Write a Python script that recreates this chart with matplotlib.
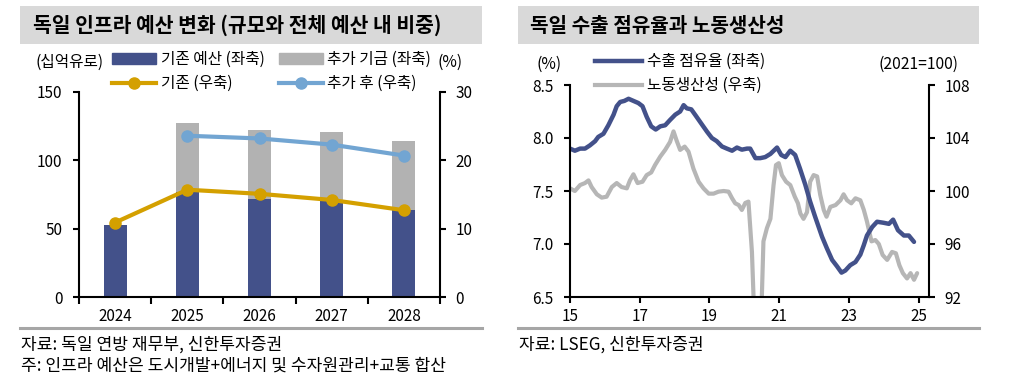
import matplotlib
matplotlib.use('Agg')
import matplotlib.pyplot as plt
from matplotlib.patches import Rectangle, Patch
from matplotlib.lines import Line2D
import numpy as np

plt.rcParams['font.family'] = ['Noto Sans CJK KR', 'DejaVu Sans']

# ---------------- data: left chart ----------------
years = ['2024', '2025', '2026', '2027', '2028']
base_budget = [53, 77, 72, 70, 63.5]          # 기존 예산 (십억유로)
extra_fund = [0, 50.5, 50.5, 50.5, 50.5]      # 추가 기금 (십억유로)
share_base = [10.9, 15.7, 15.1, 14.2, 12.7]   # 기존 (%)
share_after = [np.nan, 23.6, 23.2, 22.3, 20.7]  # 추가 후 (%)

# ---------------- data: right chart ----------------
export_t = [2015.00, 2015.14, 2015.29, 2015.43, 2015.57, 2015.72, 2015.81, 2015.96,
            2016.10, 2016.25, 2016.34, 2016.44, 2016.56, 2016.68, 2016.82, 2016.96,
            2017.08, 2017.20, 2017.33, 2017.46, 2017.59, 2017.73, 2017.87,
            2018.02, 2018.16, 2018.26, 2018.35, 2018.48, 2018.61, 2018.78, 2018.93,
            2019.07, 2019.21, 2019.36, 2019.50, 2019.65, 2019.79, 2019.93,
            2020.08, 2020.17, 2020.32, 2020.46, 2020.60, 2020.75, 2020.94,
            2021.06, 2021.18, 2021.32, 2021.46, 2021.60, 2021.75, 2021.89,
            2022.03, 2022.23, 2022.37, 2022.52, 2022.66, 2022.79, 2022.90,
            2023.04, 2023.19, 2023.33, 2023.43, 2023.52, 2023.67, 2023.81,
            2024.00, 2024.15, 2024.27, 2024.41, 2024.58, 2024.72, 2024.87]
export_share = [7.90, 7.88, 7.90, 7.90, 7.93, 7.97, 8.01, 8.04,
                8.12, 8.22, 8.30, 8.34, 8.35, 8.37, 8.35, 8.33,
                8.30, 8.20, 8.11, 8.08, 8.11, 8.12, 8.17,
                8.22, 8.25, 8.31, 8.28, 8.27, 8.21, 8.13, 8.06,
                8.00, 7.97, 7.92, 7.90, 7.88, 7.91, 7.89,
                7.90, 7.90, 7.81, 7.81, 7.82, 7.85, 7.91,
                7.84, 7.82, 7.88, 7.84, 7.71, 7.56, 7.40,
                7.26, 7.07, 6.96, 6.85, 6.79, 6.73, 6.75,
                6.80, 6.83, 6.90, 6.99, 7.08, 7.16, 7.21,
                7.20, 7.19, 7.23, 7.13, 7.08, 7.08, 7.02]

prod_t = [2015.00, 2015.14, 2015.29, 2015.43, 2015.53, 2015.62, 2015.77, 2015.91,
          2016.05, 2016.20, 2016.34, 2016.48, 2016.63, 2016.72, 2016.82, 2016.94,
          2017.08, 2017.20, 2017.33, 2017.44, 2017.59, 2017.73, 2017.87, 2017.97,
          2018.06, 2018.16, 2018.29, 2018.40, 2018.54, 2018.69, 2018.83, 2018.98,
          2019.12, 2019.26, 2019.41, 2019.55, 2019.65, 2019.74, 2019.84, 2019.93,
          2020.03, 2020.12, 2020.22, 2020.32, 2020.46, 2020.55, 2020.65, 2020.75, 2020.84, 2020.91, 2020.99,
          2021.08, 2021.20, 2021.32, 2021.45, 2021.54, 2021.61, 2021.70, 2021.80, 2021.89, 2021.99,
          2022.09, 2022.18, 2022.28, 2022.36, 2022.47, 2022.62, 2022.76, 2022.85, 2022.95,
          2023.07, 2023.19, 2023.33, 2023.43, 2023.52, 2023.65, 2023.76, 2023.86, 2023.97,
          2024.10, 2024.24, 2024.35, 2024.45, 2024.55, 2024.67, 2024.77, 2024.87, 2024.96]
productivity = [100.2, 100.0, 100.45, 100.6, 100.8, 100.3, 99.75, 99.5,
                99.57, 100.3, 100.6, 100.3, 100.2, 100.8, 101.26, 100.6,
                100.7, 101.2, 101.4, 101.96, 102.6, 103.1, 103.7, 104.5,
                103.8, 103.1, 103.35, 102.97, 101.7, 100.7, 100.2, 99.8,
                99.8, 99.95, 100.0, 99.95, 99.45, 99.07, 98.94, 98.57,
                99.1, 99.2, 95.4, 88.0, 88.0, 96.2, 97.2, 97.9, 100.45, 101.96, 102.1,
                101.2, 100.7, 100.45, 99.57, 99.07, 98.3, 97.9, 98.4, 100.7, 101.2,
                101.1, 99.7, 98.57, 98.06, 98.8, 98.94, 99.3, 99.75, 99.3,
                99.07, 99.45, 99.3, 98.57, 97.7, 96.2, 96.3, 96.0, 95.17,
                94.8, 95.4, 95.3, 94.4, 93.8, 93.4, 93.8, 93.3, 93.8]

x_years = [2015, 2017, 2019, 2021, 2023, 2025]
x_labels = ['15', '17', '19', '21', '23', '25']

# ---------------- styling ----------------
C_DARK = '#43518a'
C_GRAY_BAR = '#b2b2b2'
C_GOLD = '#d4a000'
C_LBLUE = '#72a5d2'
C_GRAY_LINE = '#b6b6b6'

W, H = 1022, 382
fig = plt.figure(figsize=(W / 100, H / 100), dpi=100)


def fx(px):
    return px / W


def fy(py):
    return 1 - py / H


TICK_FS = 11
LEG_FS = 11.3
FOOT_FS = 12.3


def title_box(x0, x1, text, tx, fs):
    fig.patches.append(Rectangle((fx(x0), fy(44)), fx(x1 - x0), 38 / H,
                                 transform=fig.transFigure, facecolor='#d9d9d9',
                                 edgecolor='none', zorder=0))
    fig.text(fx(tx), fy(25), text, fontsize=fs, fontweight='bold',
             va='center', ha='left')
    fig.add_artist(Line2D([fx(x0), fx(x1)], [fy(328), fy(328)],
                          color='#a6a6a6', lw=2.2, transform=fig.transFigure))


def style_axes(ax):
    ax.spines['top'].set_visible(False)
    for s in ['left', 'right', 'bottom']:
        ax.spines[s].set_linewidth(1.5)
        ax.spines[s].set_color('black')
    ax.tick_params(axis='both', which='both', direction='out', width=1.5,
                   length=4, labelsize=TICK_FS, colors='black')


# ================= LEFT CHART =================
title_box(20, 482, '독일 인프라 예산 변화 (규모와 전체 예산 내 비중)', 33, 14.7)

ax1 = fig.add_axes([fx(79), fy(297), fx(361), 205 / H])
xpos = np.arange(len(years))
ax1.bar(xpos, base_budget, width=0.32, color=C_DARK, zorder=2)
ax1.bar(xpos, extra_fund, bottom=base_budget, width=0.32, color=C_GRAY_BAR, zorder=2)
ax1.set_xlim(-0.5, len(years) - 0.5)
ax1.set_ylim(0, 150)
ax1.set_yticks([0, 50, 100, 150])
ax1.set_xticks(xpos)
ax1.set_xticklabels(years)
ax1.set_xticks(np.arange(-0.5, len(years), 1), minor=True)
style_axes(ax1)
ax1.spines['right'].set_visible(False)
ax1.tick_params(axis='x', which='major', length=0, pad=8)
ax1.tick_params(axis='x', which='minor', length=5)
ax1.tick_params(axis='y', pad=8)

ax2 = ax1.twinx()
ax2.set_ylim(0, 30)
ax2.set_yticks([0, 10, 20, 30])
style_axes(ax2)
ax2.spines['left'].set_visible(False)
ax2.spines['bottom'].set_visible(False)
ax2.tick_params(axis='y', pad=7)
ax2.plot(xpos, share_base, color=C_GOLD, lw=3, marker='o', ms=8, zorder=3)
ax2.plot(xpos, share_after, color=C_LBLUE, lw=3, marker='o', ms=8, zorder=3)

handles = [Patch(color=C_DARK),
           Line2D([], [], color=C_GOLD, lw=3, marker='o', ms=8),
           Patch(color=C_GRAY_BAR),
           Line2D([], [], color=C_LBLUE, lw=3, marker='o', ms=8)]
labels = ['기존 예산 (좌축)', '기존 (우축)', '추가 기금 (좌축)', '추가 후 (우축)']
fig.legend(handles, labels, ncol=2, loc='upper left',
           bbox_to_anchor=(fx(112), fy(51)), frameon=False, fontsize=LEG_FS,
           borderpad=0, borderaxespad=0, handlelength=2.8, handleheight=0.65,
           handletextpad=0.3, columnspacing=0.9, labelspacing=0.45)
fig.text(fx(70), fy(62), '(십억유로)', fontsize=LEG_FS, ha='center', va='center')
fig.text(fx(450), fy(62), '(%)', fontsize=LEG_FS, ha='center', va='center')

fig.text(fx(21), fy(345), '자료: 독일 연방 재무부, 신한투자증권', fontsize=FOOT_FS,
         ha='left', va='center')
fig.text(fx(21), fy(366), '주: 인프라 예산은 도시개발+에너지 및 수자원관리+교통 합산',
         fontsize=FOOT_FS, ha='left', va='center')

# ================= RIGHT CHART =================
title_box(518, 979, '독일 수출 점유율과 노동생산성', 530, 14.5)

ax3 = fig.add_axes([fx(570), fy(297), fx(359), 212 / H])
ax4 = ax3.twinx()
ax3.set_zorder(ax4.get_zorder() + 1)
ax3.patch.set_visible(False)

ax3.plot(export_t, export_share, color=C_DARK, lw=3.2, solid_capstyle='round')
ax4.plot(prod_t, productivity, color=C_GRAY_LINE, lw=3.0, solid_capstyle='round')

ax3.set_xlim(2015, 2025.3)
ax3.set_ylim(6.5, 8.5)
ax3.set_yticks([6.5, 7.0, 7.5, 8.0, 8.5])
ax3.set_yticklabels(['%.1f' % v for v in [6.5, 7.0, 7.5, 8.0, 8.5]])
ax3.set_xticks(x_years)
ax3.set_xticklabels(x_labels)
style_axes(ax3)
ax3.spines['right'].set_visible(False)
ax3.tick_params(axis='y', pad=8)
ax3.tick_params(axis='x', pad=4)

ax4.set_ylim(92, 108)
ax4.set_yticks([92, 96, 100, 104, 108])
style_axes(ax4)
ax4.spines['left'].set_visible(False)
ax4.spines['bottom'].set_visible(False)
ax4.tick_params(axis='y', pad=7)

h2 = [Line2D([], [], color=C_DARK, lw=3.2), Line2D([], [], color=C_GRAY_LINE, lw=3.0)]
fig.legend(h2, ['수출 점유율 (좌축)', '노동생산성 (우축)'], loc='upper left',
           bbox_to_anchor=(fx(595), fy(53)), frameon=False, fontsize=LEG_FS,
           borderpad=0, borderaxespad=0, handlelength=3.0, handletextpad=0.3,
           labelspacing=0.45)
fig.text(fx(549), fy(64), '(%)', fontsize=LEG_FS, ha='center', va='center')
fig.text(fx(918), fy(64), '(2021=100)', fontsize=LEG_FS, ha='center', va='center')

fig.text(fx(519), fy(345), '자료: LSEG, 신한투자증권', fontsize=FOOT_FS,
         ha='left', va='center')

fig.savefig('out.png', dpi=100, facecolor='white')
